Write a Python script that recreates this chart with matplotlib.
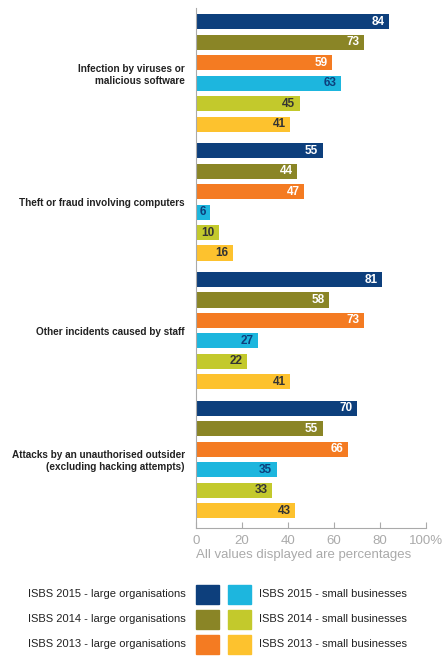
import matplotlib.pyplot as plt
from matplotlib.patches import Rectangle

plt.rcParams['font.family'] = ['Liberation Sans', 'DejaVu Sans']

# Data
categories = ["Infection by viruses or\nmalicious software",
              "Theft or fraud involving computers",
              "Other incidents caused by staff",
              "Attacks by an unauthorised outsider\n(excluding hacking attempts)"]
series = ["ISBS 2015 - large organisations",
          "ISBS 2014 - large organisations",
          "ISBS 2013 - large organisations",
          "ISBS 2015 - small businesses",
          "ISBS 2014 - small businesses",
          "ISBS 2013 - small businesses"]
large_2015 = [84, 55, 81, 70]
large_2014 = [73, 44, 58, 55]
large_2013 = [59, 47, 73, 66]
small_2015 = [63, 6, 27, 35]
small_2014 = [45, 10, 22, 33]
small_2013 = [41, 16, 41, 43]
values = [large_2015, large_2014, large_2013, small_2015, small_2014, small_2013]
xticks = [0, 20, 40, 60, 80, 100]
xtick_labels = ["0", "20", "40", "60", "80", "100%"]

colors = ["#0d3f7c", "#8a8526", "#f47b22", "#1db6de", "#c3c92c", "#fdc22e"]
label_colors = ["white", "white", "white", "#0d3f7c", "#333333", "#333333"]

fig = plt.figure(figsize=(4.48, 6.56), dpi=100)
ax = fig.add_axes([196/448, 1 - 528/656, 230/448, 520/656])

gstep = 6.3
for i, (vals, c, lc) in enumerate(zip(values, colors, label_colors)):
    ys = [g * gstep + i for g in range(len(categories))]
    ax.barh(ys, vals, height=0.74, color=c)
    for y, v in zip(ys, vals):
        ax.annotate(str(v), (v, y), xytext=(-3, 0), textcoords="offset points",
                    ha="right", va="center", fontsize=8.5, fontweight="bold", color=lc)

ax.set_ylim(gstep * 3 + 5 + 0.85, -0.68)
ax.set_xlim(0, 100)
ax.set_yticks([g * gstep + 2.5 for g in range(len(categories))])
ax.set_yticklabels(categories, fontsize=7.2, color="#222222", fontweight="bold")
ax.tick_params(axis="y", length=0, pad=8)
ax.set_xticks(xticks)
ax.set_xticklabels(xtick_labels, fontsize=9.5, color="#aaaaaa")
ax.tick_params(axis="x", direction="in", length=4, color="#aaaaaa", pad=5)
for s in ["top", "right"]:
    ax.spines[s].set_visible(False)
ax.spines["left"].set_color("#aaaaaa")
ax.spines["bottom"].set_color("#aaaaaa")

fig.text(304/448, 1 - 555/656, "All values displayed are percentages",
         ha="center", va="center", fontsize=9.5, color="#aaaaaa")

# Legend
rows = [594, 619, 644]
for r, y in enumerate(rows):
    for k, x0 in enumerate([196, 228]):
        fig.add_artist(Rectangle((x0/448, 1 - (y + 10)/656), 23/448, 19/656,
                                 transform=fig.transFigure, color=colors[r + 3*k]))
    fig.text(186/448, 1 - y/656, series[r], ha="right", va="center",
             fontsize=8, color="#222222")
    fig.text(259/448, 1 - y/656, series[r + 3], ha="left", va="center",
             fontsize=8, color="#222222")

fig.savefig("out.png", dpi=100)
